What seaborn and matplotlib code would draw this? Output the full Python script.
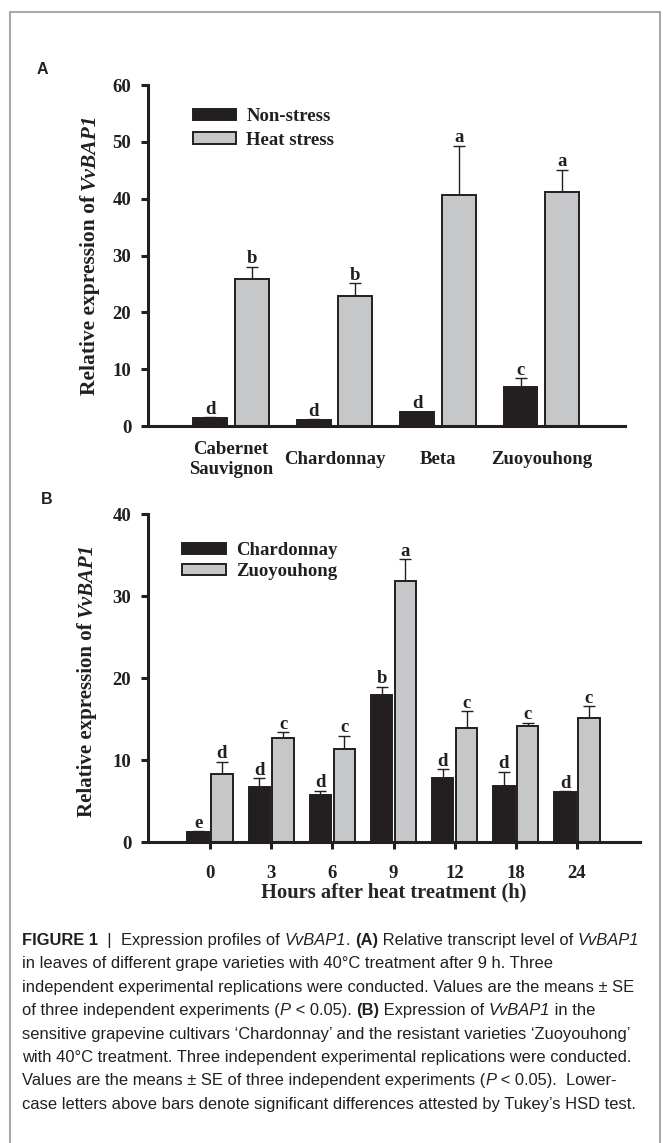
import matplotlib
matplotlib.use('Agg')
import matplotlib.pyplot as plt
from matplotlib.patches import Rectangle
import seaborn as sns
import numpy as np
import pandas as pd

## 데이터 (A): 품종별 VvBAP1 발현량
varieties = ['Cabernet\nSauvignon', 'Chardonnay', 'Beta', 'Zuoyouhong']
treatments = ['Non-stress', 'Heat stress']
a_non = [1.4, 1.1, 2.4, 6.8]
a_non_se = [0.1, 0.1, 0.1, 1.6]
a_heat = [25.8, 22.8, 40.6, 41.1]
a_heat_se = [2.2, 2.3, 8.7, 4.0]
a_non_letters = ['d', 'd', 'd', 'c']
a_heat_letters = ['b', 'b', 'a', 'a']

## 데이터 (B): 고온처리 후 시간별 발현량
hours = ['0', '3', '6', '9', '12', '18', '24']
cultivars = ['Chardonnay', 'Zuoyouhong']
b_chard = [1.2, 6.7, 5.8, 18.0, 7.8, 6.9, 6.1]
b_chard_se = [0.15, 1.1, 0.5, 1.0, 1.1, 1.7, 0.1]
b_zuo = [8.3, 12.7, 11.4, 31.9, 14.0, 14.2, 15.1]
b_zuo_se = [1.5, 0.7, 1.6, 2.6, 2.0, 0.4, 1.5]
b_chard_letters = ['e', 'd', 'd', 'b', 'd', 'd', 'd']
b_zuo_letters = ['d', 'c', 'c', 'a', 'c', 'c', 'c']

## 캡션 (n: 보통, b: 굵게, i: 기울임)
caption_lines = [
    [('FIGURE 1', 'b'), ('  |  ', 'n'), ('Expression profiles of ', 'n'), ('VvBAP1', 'i'), ('. ', 'n'),
     ('(A)', 'b'), (' Relative transcript level of ', 'n'), ('VvBAP1', 'i')],
    [('in leaves of different grape varieties with 40°C treatment after 9 h. Three', 'n')],
    [('independent experimental replications were conducted. Values are the means ± SE', 'n')],
    [('of three independent experiments (', 'n'), ('P', 'i'), (' < 0.05). ', 'n'), ('(B)', 'b'),
     (' Expression of ', 'n'), ('VvBAP1', 'i'), (' in the', 'n')],
    [('sensitive grapevine cultivars ‘Chardonnay’ and the resistant varieties ‘Zuoyouhong’', 'n')],
    [('with 40°C treatment. Three independent experimental replications were conducted.', 'n')],
    [('Values are the means ± SE of three independent experiments (', 'n'), ('P', 'i'),
     (' < 0.05).  Lower-', 'n')],
    [('case letters above bars denote significant differences attested by Tukey’s HSD test.', 'n')],
]

INK = '#231f20'
LIGHT = '#c6c7c9'
W, H = 663, 1143
FS = 13.5

sns.set_style('ticks')
plt.rcParams['font.family'] = ['Liberation Serif', 'DejaVu Serif']
plt.rcParams['font.serif'] = ['Liberation Serif', 'DejaVu Serif']
plt.rcParams['font.sans-serif'] = ['Liberation Sans', 'DejaVu Sans']
plt.rcParams['font.weight'] = 'bold'
plt.rcParams['text.color'] = INK
plt.rcParams['axes.edgecolor'] = INK
plt.rcParams['xtick.color'] = INK
plt.rcParams['ytick.color'] = INK

STYLES = {'n': {'fontweight': 'normal', 'fontstyle': 'normal'},
          'b': {'fontweight': 'bold', 'fontstyle': 'normal'},
          'i': {'fontweight': 'normal', 'fontstyle': 'italic'},
          'bi': {'fontweight': 'bold', 'fontstyle': 'italic'}}


def to_frame(cats, groups, v1, e1, l1, v2, e2, l2, cat_name, grp_name):
    rows = []
    for g, vals, errs, lets in [(groups[0], v1, e1, l1), (groups[1], v2, e2, l2)]:
        for c, v, e, l in zip(cats, vals, errs, lets):
            rows.append({cat_name: c, grp_name: g, 'value': v, 'se': e, 'letter': l})
    return pd.DataFrame(rows)


def text_width(fig, txt, **kw):
    # 앞뒤 공백까지 재기 위해 '|'로 감싸서 폭 측정
    r = fig.canvas.get_renderer()
    t1 = fig.text(0, 0, '|' + txt + '|', **kw)
    t2 = fig.text(0, 0, '||', **kw)
    w = t1.get_window_extent(r).width - t2.get_window_extent(r).width
    t1.remove()
    t2.remove()
    return w


def rich_line(fig, x_px, y_px, chunks, **kw):
    pos = x_px
    for txt, st in chunks:
        props = dict(kw, **STYLES[st])
        fig.text(pos / W, 1 - y_px / H, txt, ha='left', va='baseline', **props)
        pos += text_width(fig, txt, **props)


def rich_ylabel(fig, x_px, yc_px, chunks, **kw):
    widths = [text_width(fig, txt, **dict(kw, **STYLES[st])) for txt, st in chunks]
    pos = yc_px + sum(widths) / 2
    for (txt, st), w in zip(chunks, widths):
        fig.text(x_px / W, 1 - pos / H, txt, rotation=90, rotation_mode='anchor',
                 ha='left', va='center', **dict(kw, **STYLES[st]))
        pos -= w


def draw_panel(ax, df, cat_name, grp_name, cats, groups, width, gap, ymax, ystep):
    sns.barplot(data=df, x=cat_name, y='value', hue=grp_name, order=cats, hue_order=groups,
                palette={groups[0]: INK, groups[1]: LIGHT}, saturation=1, errorbar=None,
                width=width, gap=gap, edgecolor=INK, linewidth=1.4, ax=ax, zorder=2)
    for cont, g in zip(ax.containers, groups):
        sub = df[df[grp_name] == g].set_index(cat_name).loc[cats]
        xs = np.array([b.get_x() + b.get_width() / 2 for b in cont])
        tops = np.array([b.get_height() for b in cont])
        ax.errorbar(xs, tops, yerr=[np.zeros(len(xs)), sub['se'].values], fmt='none',
                    ecolor=INK, elinewidth=1.0, capsize=4.3, capthick=1.0, zorder=1)
        for xx, t, e, let in zip(xs, tops, sub['se'].values, sub['letter'].values):
            ax.annotate(let, (xx, t + e), xytext=(0, 2.5), textcoords='offset points',
                        ha='center', va='baseline', fontsize=FS, fontweight='bold')
    ax.set_ylim(0, ymax)
    ax.set_yticks(np.arange(0, ymax + 1, ystep))
    ax.set_xlabel('')
    ax.set_ylabel('')
    sns.despine(ax=ax)
    for s in ['left', 'bottom']:
        ax.spines[s].set_linewidth(2.2)
    ax.tick_params(axis='y', length=5, width=2.2, pad=7, labelsize=FS)
    ax.tick_params(axis='x', labelsize=FS)
    for lbl in ax.get_xticklabels() + ax.get_yticklabels():
        lbl.set_fontweight('bold')
    leg = ax.get_legend()
    handles = leg.legend_handles
    labels = [t.get_text() for t in leg.texts]
    leg.remove()
    return handles, labels


fig = plt.figure(figsize=(W / 100, H / 100), dpi=100)

# 바깥 테두리
fig.patches.append(Rectangle((10 / W, -0.1), 650 / W, 1.1 - 12 / H, transform=fig.transFigure,
                             fill=False, edgecolor='#a9a9a9', linewidth=1.5))

ylabel_chunks = [('Relative expression of ', 'b'), ('VvBAP1', 'bi')]

## 패널 A
df_a = to_frame(varieties, treatments, a_non, a_non_se, a_non_letters,
                a_heat, a_heat_se, a_heat_letters, 'variety', 'treatment')
ax_a = fig.add_axes([148 / W, 1 - 426 / H, 477 / W, 341 / H])
h, l = draw_panel(ax_a, df_a, 'variety', 'treatment', varieties, treatments, 0.81, 0.19, 60, 10)
ax_a.set_xlim(-0.802, 3.807)
ax_a.tick_params(axis='x', length=0, pad=24)
for lbl in ax_a.get_xticklabels():
    lbl.set_verticalalignment('center')
ax_a.legend(h, l, loc='upper left', bbox_to_anchor=(0.094, 0.932), frameon=False,
            borderaxespad=0, borderpad=0, handlelength=2.3, handleheight=0.55,
            handletextpad=0.55, labelspacing=0.35, prop={'size': FS, 'weight': 'bold'})
rich_ylabel(fig, 90, 254, ylabel_chunks, family='serif', fontsize=15.5)

## 패널 B
df_b = to_frame(hours, cultivars, b_chard, b_chard_se, b_chard_letters,
                b_zuo, b_zuo_se, b_zuo_letters, 'hour', 'cultivar')
ax_b = fig.add_axes([148 / W, 1 - 842.3 / H, 492 / W, 328 / H])
h, l = draw_panel(ax_b, df_b, 'hour', 'cultivar', hours, cultivars, 0.78, 0.1, 40, 10)
ax_b.set_xlim(-1.014, 7.03)
ax_b.tick_params(axis='x', length=5, width=2.2, pad=11, direction='out')
ax_b.set_xlabel('Hours after heat treatment (h)', fontsize=14.8, fontweight='bold', labelpad=1)
ax_b.legend(h, l, loc='upper left', bbox_to_anchor=(0.069, 0.915), frameon=False,
            borderaxespad=0, borderpad=0, handlelength=2.35, handleheight=0.55,
            handletextpad=0.55, labelspacing=0.2, prop={'size': FS, 'weight': 'bold'})
rich_ylabel(fig, 87, 680, ylabel_chunks, family='serif', fontsize=15)

# 패널 라벨
fig.text(42 / W, 1 - 69 / H, 'A', family='sans-serif', fontsize=11.5, fontweight='bold',
         ha='center', va='center')
fig.text(47 / W, 1 - 499 / H, 'B', family='sans-serif', fontsize=11.5, fontweight='bold',
         ha='center', va='center')

# 캡션
for i, chunks in enumerate(caption_lines):
    rich_line(fig, 22, 945 + 23.4 * i, chunks, family='sans-serif', fontsize=11.9, color=INK)

fig.savefig('out.png', dpi=100)
